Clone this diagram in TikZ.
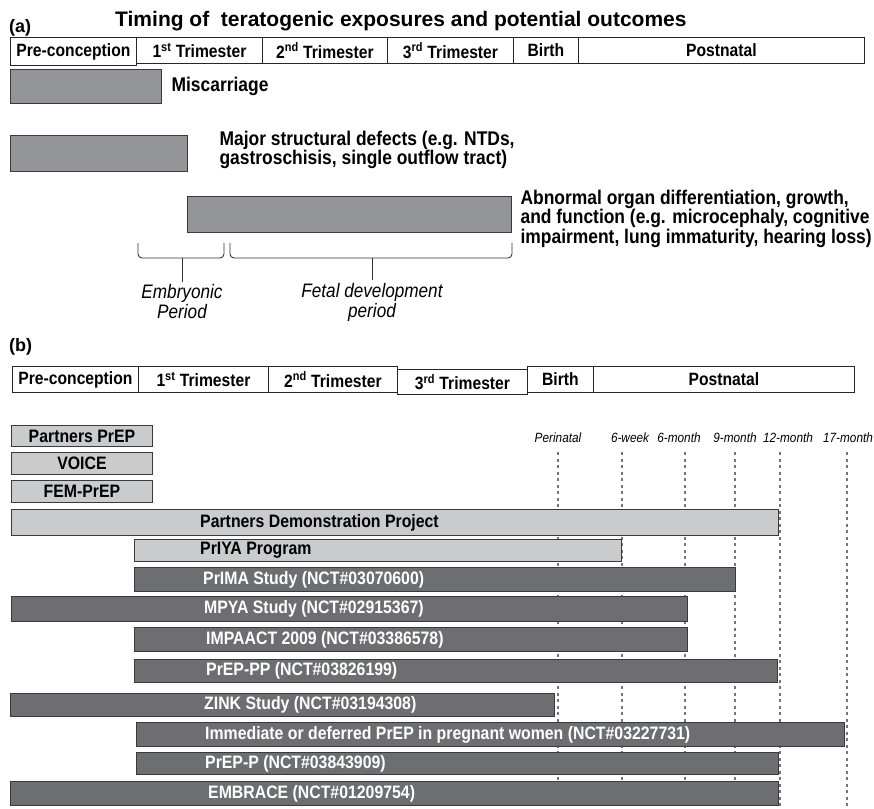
\documentclass[tikz,border=0pt]{standalone}
\usepackage{fontspec}
\setmainfont{Liberation Sans}
\newfontfamily\tallsans[FakeStretch=0.88]{Liberation Sans}
\usetikzlibrary{positioning}
\definecolor{outcomegray}{HTML}{939598}
\definecolor{studydark}{HTML}{6D6E71}
\definecolor{studylight}{HTML}{CACBCC}
\definecolor{edgegray}{HTML}{3A3A3A}
\definecolor{guidegray}{HTML}{767676}
\tikzset{
  cellbox/.style={draw=black!85, line width=0.9pt, anchor=north west, inner sep=0pt, font=\tallsans\bfseries\fontsize{17.8}{17.8}\selectfont},
  outcomebar/.style={draw=edgegray, line width=1.4pt, fill=outcomegray, anchor=north west, inner sep=0pt},
  lightbar/.style={draw=edgegray, line width=1pt, fill=studylight, anchor=north west, inner sep=0pt, font=\tallsans\bfseries\fontsize{18}{18}\selectfont},
  darkbar/.style={draw=edgegray, line width=1pt, fill=studydark, anchor=north west, inner sep=0pt},
  barlabel/.style={anchor=west, inner sep=0pt, font=\tallsans\bfseries\fontsize{18}{18}\selectfont},
  outcomelabel/.style={anchor=west, align=left, inner sep=0pt, font=\tallsans\bfseries\fontsize{19.8}{18.5}\selectfont},
  periodlabel/.style={align=center, inner sep=0pt, font=\tallsans\itshape\fontsize{19.5}{20}\selectfont},
  monthlabel/.style={inner sep=0pt, font=\tallsans\itshape\fontsize{13.4}{13.4}\selectfont},
  guide/.style={guidegray, line width=2.2pt, dash pattern=on 3pt off 3.5pt},
  bracket/.style={black!80, line width=0.9pt, rounded corners=4pt}
}
\begin{document}
\begin{tikzpicture}[x=1pt,y=-1pt]
  \useasboundingbox (0,0) rectangle (874,808);
  % (a) timing of exposures
  \node[anchor=west, inner sep=0pt, font=\bfseries\fontsize{18}{18}\selectfont] (tagA) at (9,28) {(a)};
  \node[anchor=west, inner sep=0pt, font=\bfseries\fontsize{21}{21}\selectfont] (title) at (115,21) {Timing of~ teratogenic exposures and potential outcomes};
  \node[cellbox, minimum width=126pt, minimum height=28pt] (aPre) at (10,37) {Pre-conception};
  \node[cellbox, minimum width=126pt, minimum height=26pt] (aT1) at (136,37) {1\textsuperscript{st} Trimester};
  \node[cellbox, minimum width=125pt, minimum height=26pt] (aT2) at (262,37) {2\textsuperscript{nd} Trimester};
  \node[cellbox, minimum width=126pt, minimum height=26pt] (aT3) at (387,37) {3\textsuperscript{rd} Trimester};
  \node[cellbox, minimum width=65pt, minimum height=26pt] (aBirth) at (513,37) {Birth};
  \node[cellbox, minimum width=286pt, minimum height=26pt] (aPost) at (578,37) {Postnatal};

  \node[outcomebar, minimum width=151pt, minimum height=34pt] (misc) at (10,69) {};
  \node[outcomelabel, right=9pt of misc] (miscT) {Miscarriage};
  \node[outcomebar, minimum width=177pt, minimum height=36pt] (major) at (10,135) {};
  \node[outcomelabel, right=31pt of major, yshift=4pt] (majorT) {Major structural defects (e.g. NTDs,\\gastroschisis, single outflow tract)};
  \node[outcomebar, minimum width=324pt, minimum height=36pt] (abn) at (187,196) {};
  \node[outcomelabel, right=8pt of abn, yshift=-4pt] (abnT) {Abnormal organ differentiation, growth,\\and function (e.g. microcephaly, cognitive\\impairment, lung immaturity, hearing loss)};

  \node[periodlabel] (embT) at (182,302) {Embryonic\\Period};
  \node[periodlabel] (fetT) at (372,302) {Fetal development\\period};
  \coordinate (embTip) at (182,258);
  \coordinate (fetTip) at (372,258);
  \draw[bracket] (138,243) |- (224,258) -- (224,243);
  \draw[bracket] (230,243) |- (512,258) -- (512,243);
  \draw[bracket] (embTip) -- ([yshift=3pt]embT.north);
  \draw[bracket] (fetTip) -- ([yshift=3pt]fetT.north);

  % (b) studies
  \node[anchor=west, inner sep=0pt, font=\bfseries\fontsize{18}{18}\selectfont] (tagB) at (9,347) {(b)};
  \node[cellbox, minimum width=126pt, minimum height=26pt] (bPre) at (12,366) {Pre-conception};
  \node[cellbox, minimum width=130pt, minimum height=26pt] (bT1) at (138,366) {1\textsuperscript{st} Trimester};
  \node[cellbox, minimum width=129pt, minimum height=26pt] (bT2) at (268,366) {2\textsuperscript{nd} Trimester};
  \node[cellbox, minimum width=130pt, minimum height=25pt] (bT3) at (397,369) {3\textsuperscript{rd} Trimester};
  \node[cellbox, minimum width=66pt, minimum height=26pt] (bBirth) at (527,366) {Birth};
  \node[cellbox, minimum width=261pt, minimum height=26pt] (bPost) at (593,366) {Postnatal};

  \foreach \m/\x/\lx/\txt in {peri/558/558/Perinatal, wkSix/622/630/6-week, moSix/685/679/6-month,
      moNine/735/735/9-month, moTwelve/780/788/12-month, moSeventeen/847/848/17-month} {
    \node[monthlabel] (\m) at (\lx,438) {\txt};
    \coordinate (\m Top) at (\x,452);
    \coordinate (\m End) at (\x,808);
    \draw[guide] (\m Top) -- (\m End);
  }

  \node[lightbar, minimum width=141pt, minimum height=21pt] (pprep) at (11,425) {Partners PrEP};
  \node[lightbar, minimum width=141pt, minimum height=22pt] (voice) at (11,452) {VOICE};
  \node[lightbar, minimum width=141pt, minimum height=22pt] (fem) at (11,480) {FEM-PrEP};
  \node[lightbar, minimum width=767pt, minimum height=26pt] (demo) at (11,509) {};
  \node[barlabel] (demoT) at (200,0 |- demo) {Partners Demonstration Project};
  \node[lightbar, minimum width=487pt, minimum height=22pt] (priya) at (134,539) {};
  \node[barlabel] (priyaT) at (200,0 |- priya) {PrIYA Program};

  \node[darkbar, minimum width=601pt, minimum height=24pt] (prima) at (134,567) {};
  \node[barlabel, text=white] (primaT) at (203,0 |- prima) {PrIMA Study (NCT\#03070600)};
  \node[darkbar, minimum width=676pt, minimum height=25pt] (mpya) at (11,596) {};
  \node[barlabel, text=white] (mpyaT) at (204,0 |- mpya) {MPYA Study (NCT\#02915367)};
  \node[darkbar, minimum width=553pt, minimum height=24pt] (impaact) at (134,627) {};
  \node[barlabel, text=white] (impaactT) at (206,0 |- impaact) {IMPAACT 2009 (NCT\#03386578)};
  \node[darkbar, minimum width=643pt, minimum height=23pt] (prepPP) at (134,659) {};
  \node[barlabel, text=white] (prepPPT) at (206,0 |- prepPP) {PrEP-PP (NCT\#03826199)};
  \node[darkbar, minimum width=544pt, minimum height=23pt] (zink) at (10,693) {};
  \node[barlabel, text=white] (zinkT) at (204,0 |- zink) {ZINK Study (NCT\#03194308)};
  \node[darkbar, minimum width=708pt, minimum height=24pt] (immed) at (136,722) {};
  \node[barlabel, text=white] (immedT) at (205,0 |- immed) {Immediate or deferred PrEP in pregnant women (NCT\#03227731)};
  \node[darkbar, minimum width=642pt, minimum height=22pt] (prepP) at (136,752) {};
  \node[barlabel, text=white] (prepPT) at (205,0 |- prepP) {PrEP-P (NCT\#03843909)};
  \node[darkbar, minimum width=768pt, minimum height=24pt] (embrace) at (10,781) {};
  \node[barlabel, text=white] (embraceT) at (208,0 |- embrace) {EMBRACE (NCT\#01209754)};
\end{tikzpicture}
\end{document}
